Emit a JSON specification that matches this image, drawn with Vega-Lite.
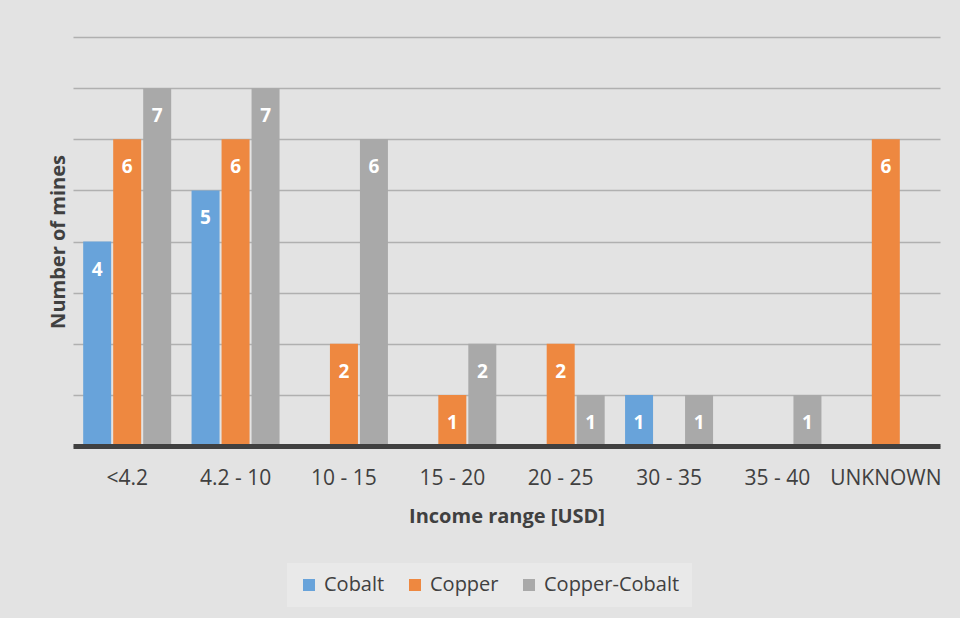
{
  "$schema": "https://vega.github.io/schema/vega-lite/v6.json",
  "autosize": "none",
  "width": 867,
  "height": 409,
  "padding": {"left": 73, "top": 37, "right": 20, "bottom": 172},
  "background": "#e3e3e3",
  "config": {
    "font": "Open Sans",
    "view": {"stroke": null}
  },
  "data": {
    "values": [
      {"range": "<4.2", "type": "Cobalt", "mines": 4},
      {"range": "<4.2", "type": "Copper", "mines": 6},
      {"range": "<4.2", "type": "Copper-Cobalt", "mines": 7},
      {"range": "4.2 - 10", "type": "Cobalt", "mines": 5},
      {"range": "4.2 - 10", "type": "Copper", "mines": 6},
      {"range": "4.2 - 10", "type": "Copper-Cobalt", "mines": 7},
      {"range": "10 - 15", "type": "Copper", "mines": 2},
      {"range": "10 - 15", "type": "Copper-Cobalt", "mines": 6},
      {"range": "15 - 20", "type": "Copper", "mines": 1},
      {"range": "15 - 20", "type": "Copper-Cobalt", "mines": 2},
      {"range": "20 - 25", "type": "Copper", "mines": 2},
      {"range": "20 - 25", "type": "Copper-Cobalt", "mines": 1},
      {"range": "30 - 35", "type": "Cobalt", "mines": 1},
      {"range": "30 - 35", "type": "Copper-Cobalt", "mines": 1},
      {"range": "35 - 40", "type": "Copper-Cobalt", "mines": 1},
      {"range": "UNKNOWN", "type": "Copper", "mines": 6}
    ]
  },
  "encoding": {
    "x": {
      "field": "range",
      "type": "nominal",
      "sort": ["<4.2", "4.2 - 10", "10 - 15", "15 - 20", "20 - 25", "30 - 35", "35 - 40", "UNKNOWN"],
      "scale": {"paddingInner": 0.188, "paddingOuter": 0.094},
      "axis": {
        "title": "Income range [USD]",
        "labelAngle": 0,
        "labelFontSize": 21,
        "labelColor": "#404040",
        "labelPadding": 21,
        "ticks": false,
        "domain": true,
        "domainColor": "#404040",
        "domainWidth": 5,
        "titleFontSize": 20,
        "titleFontWeight": "bold",
        "titleColor": "#404040",
        "titlePadding": 18,
        "zindex": 1
      }
    },
    "xOffset": {
      "field": "type",
      "type": "nominal",
      "scale": {"domain": ["Cobalt", "Copper", "Copper-Cobalt"], "paddingInner": 0.067, "paddingOuter": 0}
    },
    "y": {
      "field": "mines",
      "type": "quantitative",
      "scale": {"domain": [0, 8], "nice": false},
      "axis": {
        "title": "Number of mines",
        "values": [0, 1, 2, 3, 4, 5, 6, 7, 8],
        "labels": false,
        "ticks": false,
        "domain": false,
        "grid": true,
        "gridColor": "#b0b0b0",
        "gridWidth": 1.5,
        "titleFontSize": 20,
        "titleFontWeight": "bold",
        "titleColor": "#404040",
        "titlePadding": 5,
        "zindex": 0
      }
    }
  },
  "layer": [
    {
      "mark": {"type": "bar"},
      "encoding": {
        "color": {
          "field": "type",
          "type": "nominal",
          "scale": {"domain": ["Cobalt", "Copper", "Copper-Cobalt"], "range": ["#68a3da", "#ee8840", "#a9a9a9"]},
          "legend": {
            "title": null,
            "orient": "none",
            "direction": "horizontal",
            "legendX": 214,
            "legendY": 526,
            "fillColor": "#e9e9e9",
            "padding": 12,
            "symbolType": "square",
            "symbolSize": 144,
            "symbolStrokeWidth": 0,
            "labelFontSize": 20,
            "labelColor": "#404040",
            "labelOffset": 5,
            "columnPadding": 20
          }
        }
      }
    },
    {
      "mark": {"type": "text", "color": "white", "fontWeight": "bold", "fontSize": 19, "dy": 28, "baseline": "middle"},
      "encoding": {
        "text": {"field": "mines", "type": "quantitative"}
      }
    }
  ]
}
